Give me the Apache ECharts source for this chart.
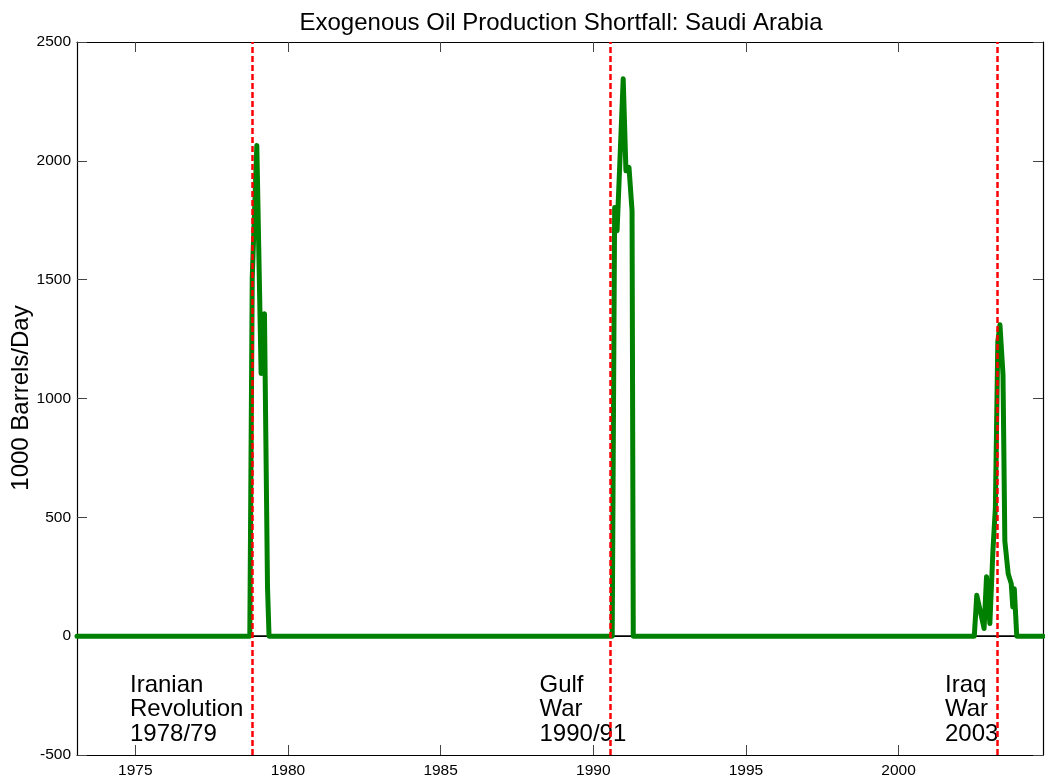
<!DOCTYPE html>
<html>
<head>
<meta charset="utf-8">
<script src="https://cdn.jsdelivr.net/npm/echarts@6/dist/echarts.min.js"></script>
<style>html,body{margin:0;padding:0;background:#fff}#c{width:1045px;height:780px}</style>
</head>
<body>
<div id="c"></div>
<script>
// ---- data (decimal year, shortfall in 1000 barrels/day) ----
const years = [
  1973.09,
  1978.75, 1978.83, 1978.98, 1979.12, 1979.23, 1979.33, 1979.38,
  1990.62, 1990.70, 1990.78, 1990.98, 1991.07, 1991.17, 1991.27, 1991.31,
  2002.48, 2002.56, 2002.80, 2002.88, 2002.99, 2003.09, 2003.17, 2003.25, 2003.32,
  2003.42, 2003.48, 2003.59, 2003.69, 2003.74, 2003.79, 2003.87,
  2004.73
];
const shortfall = [
  0,
  0, 1510, 2065, 1105, 1357, 207, 0,
  0, 1804, 1706, 2345, 1958, 1972, 1790, 0,
  0, 172, 32, 250, 53, 360, 540, 1240, 1310,
  1100, 400, 263, 221, 123, 200, 0,
  0
];
const eventYears = [1978.82, 1990.57, 2003.24];
const eventLabels = [
  ["Iranian", "Revolution", "1978/79"],
  ["Gulf", "War", "1990/91"],
  ["Iraq", "War", "2003"]
];
const xTicks = [1975, 1980, 1985, 1990, 1995, 2000];
const xRange = [1973.09, 2004.73];
const yRange = [-500, 2500];
const titleText = "Exogenous Oil Production Shortfall: Saudi Arabia";
const yLabel = "1000 Barrels/Day";

const FONT = "'Liberation Sans', Arial, sans-serif";
const chart = echarts.init(document.getElementById('c'), null, {renderer: 'canvas'});

const seriesData = years.map((y, i) => [y, shortfall[i]]);
const zeroLine = [[xRange[0], 0], [xRange[1], 0]];

const tickStyle = {show: true, inside: true, length: 10, lineStyle: {color: '#444', width: 1}};

const annotX = [130, 539.5, 945];
const annotTop = [673.4, 697.5, 722.2];
const graphics = [];
eventLabels.forEach((lines, i) => {
  lines.forEach((t, j) => {
    graphics.push({
      type: 'text', x: annotX[i], y: annotTop[j], silent: true,
      style: {text: t, font: '24px ' + FONT, fill: '#000', align: 'left', verticalAlign: 'top'}
    });
  });
});
graphics.push({
  type: 'text', x: 561, y: 11.2, silent: true,
  style: {text: titleText, font: '24px ' + FONT, fill: '#000', align: 'center', verticalAlign: 'top'}
});
graphics.push({
  type: 'text', x: 9.2, y: 398, rotation: Math.PI / 2, silent: true,
  style: {text: yLabel, font: '24px ' + FONT, fill: '#000', align: 'center', verticalAlign: 'top'}
});

chart.setOption({
  animation: false,
  backgroundColor: '#fff',
  textStyle: {fontFamily: FONT},
  grid: {left: 77, right: 2, top: 42, bottom: 25, containLabel: false},
  xAxis: [{
    type: 'value', min: xRange[0], max: xRange[1], position: 'bottom',
    axisLine: {show: true, onZero: false, lineStyle: {color: '#000', width: 1.2}},
    axisTick: Object.assign({customValues: xTicks}, tickStyle),
    axisLabel: {customValues: xTicks, color: '#000', fontSize: 15.5, margin: 8, fontFamily: FONT, formatter: v => String(v)},
    splitLine: {show: false}
  }, {
    type: 'value', min: xRange[0], max: xRange[1], position: 'top',
    axisLine: {show: true, onZero: false, lineStyle: {color: '#000', width: 1.2}},
    axisTick: Object.assign({customValues: xTicks}, tickStyle),
    axisLabel: {show: false},
    splitLine: {show: false}
  }],
  yAxis: [{
    type: 'value', min: yRange[0], max: yRange[1], interval: 500, position: 'left',
    axisLine: {show: true, onZero: false, lineStyle: {color: '#000', width: 1.2}},
    axisTick: tickStyle,
    axisLabel: {color: '#000', fontSize: 15.5, margin: 6, fontFamily: FONT, formatter: v => String(v)},
    splitLine: {show: false}
  }, {
    type: 'value', min: yRange[0], max: yRange[1], interval: 500, position: 'right',
    axisLine: {show: true, onZero: false, lineStyle: {color: '#000', width: 1.2}},
    axisTick: tickStyle,
    axisLabel: {show: false},
    splitLine: {show: false}
  }],
  series: [{
    type: 'line', data: zeroLine, symbol: 'none', silent: true, z: 1,
    lineStyle: {color: '#000', width: 1.6}
  }, {
    type: 'line', data: seriesData, symbol: 'none', silent: true, z: 2,
    lineStyle: {color: '#008000', width: 5, join: 'round', cap: 'round'}
  }, {
    type: 'line', data: [], symbol: 'none', silent: true, z: 5,
    markLine: {
      silent: true, symbol: ['none', 'none'], animation: false,
      label: {show: false},
      lineStyle: {color: '#ff0000', width: 2.5, type: [6, 3]},
      emphasis: {disabled: true},
      data: eventYears.map(v => ({xAxis: v}))
    }
  }],
  graphic: graphics
});
</script>
</body>
</html>
